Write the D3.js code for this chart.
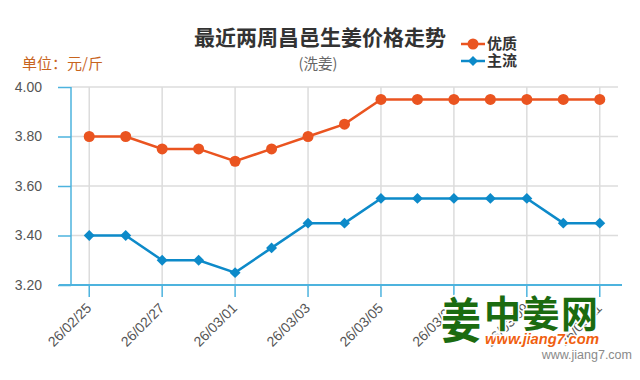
<!DOCTYPE html>
<html><head><meta charset="utf-8">
<script src="https://cdn.jsdelivr.net/npm/d3@7/dist/d3.min.js"></script>
<style>body{margin:0;background:#fff}svg{display:block;font-family:"Noto Sans CJK SC","Liberation Sans",sans-serif}</style>
</head><body>
<svg id="c" width="640" height="380"></svg>
<script>
const categories = ["26/02/25","26/02/26","26/02/27","26/02/28","26/03/01","26/03/02","26/03/03","26/03/04","26/03/05","26/03/06","26/03/07","26/03/08","26/03/09","26/03/10","26/03/11"];
const premium = [3.80,3.80,3.75,3.75,3.70,3.75,3.80,3.85,3.95,3.95,3.95,3.95,3.95,3.95,3.95];
const mainstream = [3.40,3.40,3.30,3.30,3.25,3.35,3.45,3.45,3.55,3.55,3.55,3.55,3.55,3.45,3.45];
const yTicks = [3.20,3.40,3.60,3.80,4.00];
const seriesNames = ["优质","主流"];

const svg = d3.select("#c");
const L=71, R=618, T=87, B=285;
const x = d3.scaleBand().domain(categories).range([L,R]).padding(0);
const cx = d => x(d)+x.bandwidth()/2;
const y = d3.scaleLinear().domain([3.2,4.0]).range([B,T]);
const labeled = categories.filter((d,i)=>i%2===0);
const axisCol="#4db3de", gridCol="#dcdcdc";

// horizontal grid
svg.append("g").selectAll("line").data(yTicks.slice(1)).join("line")
  .attr("x1",L).attr("x2",R).attr("y1",d=>y(d)).attr("y2",d=>y(d))
  .attr("stroke",gridCol).attr("stroke-width",1.5);
// vertical grid
svg.append("g").selectAll("line").data(labeled).join("line")
  .attr("x1",d=>cx(d)).attr("x2",d=>cx(d)).attr("y1",T).attr("y2",B)
  .attr("stroke",gridCol).attr("stroke-width",1.5);

// y axis
const yAxis = svg.append("g").attr("transform",`translate(${L},0)`)
  .call(d3.axisLeft(y).tickValues(yTicks).tickFormat(d3.format(".2f")).tickSize(13).tickPadding(16));
yAxis.select(".domain").attr("stroke",axisCol).attr("stroke-width",1.5).attr("d",`M0,${T}V${B}`);
yAxis.selectAll(".tick line").attr("stroke",axisCol).attr("stroke-width",1.5);
yAxis.selectAll("text").attr("fill","#555").attr("font-size",14).attr("font-family","Liberation Sans, sans-serif");

// x axis
const xAxis = svg.append("g").attr("transform",`translate(0,${B})`)
  .call(d3.axisBottom(x).tickValues(labeled).tickSize(12).tickPadding(4));
xAxis.select(".domain").attr("stroke",axisCol).attr("stroke-width",2).attr("d",`M${L-12},0H${R+4}`);
xAxis.selectAll(".tick line").attr("stroke",axisCol).attr("stroke-width",1.5);
xAxis.selectAll("text").attr("fill","#555").attr("font-size",14).attr("font-family","Liberation Sans, sans-serif")
  .attr("text-anchor","end").attr("x",0).attr("y",0).attr("dy",0)
  .attr("transform","translate(3,24) rotate(-45)");

// watermark (over the axis labels, as in the reference)
const wm = svg.append("g").attr("stroke","#fff").attr("stroke-width",3).attr("paint-order","stroke");
wm.append("text").attr("transform","translate(441,338) scale(1,1.2)").attr("font-size",40).attr("font-weight","bold")
  .attr("fill","#1b6b10").text("姜");
wm.append("text").attr("x",484).attr("y",328).attr("font-size",37).attr("font-weight","bold")
  .attr("textLength",114).attr("fill","#1b6b10").text("中姜网");
wm.append("text").attr("x",485).attr("y",344).attr("font-size",15).attr("font-weight","bold").attr("font-style","italic")
  .attr("textLength",114).attr("font-family","Liberation Sans, sans-serif").attr("fill","#f06010").text("www.jiang7.com");

svg.append("text").attr("x",632).attr("y",359).attr("text-anchor","end").attr("font-size",12.5)
  .attr("font-family","Liberation Sans, sans-serif").attr("fill","#8a8a8a").text("www.jiang7.com");

// lines
const series = [
  {name:seriesNames[0], values:premium, color:"#ea5420", shape:"circle"},
  {name:seriesNames[1], values:mainstream, color:"#0d8ac9", shape:"diamond"}
];
const line = d3.line().x((d,i)=>cx(categories[i])).y(d=>y(d));
series.forEach(s=>{
  svg.append("path").datum(s.values).attr("d",line).attr("fill","none")
    .attr("stroke",s.color).attr("stroke-width",2.5);
  const g = svg.append("g");
  if(s.shape==="circle"){
    g.selectAll("circle").data(s.values).join("circle")
      .attr("cx",(d,i)=>cx(categories[i])).attr("cy",d=>y(d)).attr("r",5.5).attr("fill",s.color);
  } else {
    g.selectAll("path").data(s.values).join("path")
      .attr("d",d3.symbol(d3.symbolSquare,60)).attr("fill",s.color)
      .attr("transform",(d,i)=>`translate(${cx(categories[i])},${y(d)}) rotate(45)`);
  }
});

// title
svg.append("text").attr("x",320).attr("y",45).attr("text-anchor","middle").attr("font-size",21)
  .attr("font-weight","bold").attr("fill","#333").text("最近两周昌邑生姜价格走势");
svg.append("text").attr("x",318).attr("y",69).attr("text-anchor","middle").attr("font-size",14.5)
  .attr("fill","#666").text("(洗姜)");
svg.append("text").attr("x",22).attr("y",69).attr("font-size",15).attr("fill","#c8641e").text("单位：元/斤");

// legend
series.forEach((s,i)=>{
  const ly = 44 + i*17;
  const g = svg.append("g");
  g.append("line").attr("x1",461).attr("x2",485).attr("y1",ly).attr("y2",ly).attr("stroke",s.color).attr("stroke-width",2.5);
  if(s.shape==="circle") g.append("circle").attr("cx",473).attr("cy",ly).attr("r",5.5).attr("fill",s.color);
  else g.append("path").attr("d",d3.symbol(d3.symbolSquare,50)).attr("fill",s.color).attr("transform",`translate(473,${ly}) rotate(45)`);
  g.append("text").attr("x",487).attr("y",ly+5).attr("font-size",15).attr("font-weight","bold").attr("fill","#333").text(s.name);
});
</script>
</body></html>
